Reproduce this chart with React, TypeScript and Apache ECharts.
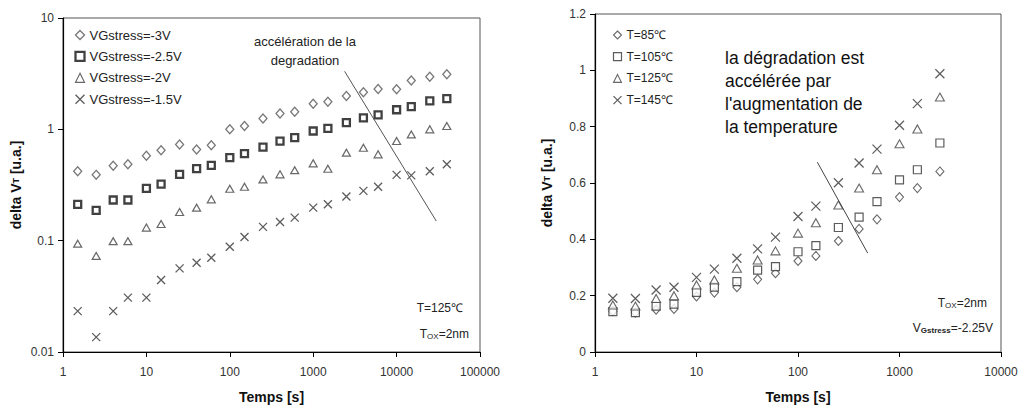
import React, { useEffect, useRef } from "react";
import * as echarts from "echarts";

// ---- Left chart data (T=125°C, Tox=2nm) ----
const timeLeft = [1.5, 2.5, 4, 6, 10, 15, 25, 40, 60, 100, 150, 250, 400, 600, 1000, 1500, 2500, 4000, 6000, 10000, 15000, 25000, 40000];
const vg3 = [0.42, 0.39, 0.47, 0.485, 0.58, 0.65, 0.73, 0.66, 0.72, 1.0, 1.07, 1.25, 1.39, 1.44, 1.7, 1.77, 1.99, 2.15, 2.3, 2.29, 2.75, 2.97, 3.12];
const vg25 = [0.212, 0.187, 0.232, 0.232, 0.295, 0.322, 0.394, 0.443, 0.475, 0.556, 0.604, 0.693, 0.785, 0.842, 0.966, 1.02, 1.15, 1.27, 1.35, 1.5, 1.6, 1.8, 1.89];
const vg2 = [0.094, 0.073, 0.099, 0.099, 0.131, 0.141, 0.181, 0.198, 0.235, 0.293, 0.305, 0.355, 0.394, 0.43, 0.495, 0.443, 0.617, 0.684, 0.596, 0.785, 0.9, 1.0, 1.07];
const vg15 = [0.0233, 0.0136, 0.0233, 0.0308, 0.0308, 0.0443, 0.0564, 0.0634, 0.0703, 0.0883, 0.108, 0.133, 0.147, 0.161, 0.198, 0.212, 0.249, 0.28, 0.305, 0.39, 0.386, 0.42, 0.485];
const leftNames = ["VGstress=-3V", "VGstress=-2.5V", "VGstress=-2V", "VGstress=-1.5V"];

// ---- Right chart data (Tox=2nm, VGstress=-2.25V) ----
const timeRight = [1.5, 2.5, 4, 6, 10, 15, 25, 40, 60, 100, 150, 250, 400, 600, 1000, 1500, 2500];
const t85 = [0.145, 0.14, 0.15, 0.153, 0.197, 0.211, 0.23, 0.258, 0.28, 0.323, 0.341, 0.394, 0.437, 0.471, 0.55, 0.582, 0.641];
const t105 = [0.143, 0.14, 0.163, 0.17, 0.212, 0.23, 0.25, 0.291, 0.303, 0.356, 0.378, 0.442, 0.479, 0.534, 0.611, 0.647, 0.742];
const t125 = [0.167, 0.163, 0.19, 0.2, 0.238, 0.256, 0.297, 0.327, 0.359, 0.422, 0.459, 0.522, 0.582, 0.647, 0.739, 0.792, 0.905];
const t145 = [0.191, 0.19, 0.22, 0.23, 0.265, 0.294, 0.333, 0.366, 0.408, 0.481, 0.518, 0.601, 0.671, 0.72, 0.805, 0.882, 0.988];
const rightNames = ["T=85\u2103", "T=105\u2103", "T=125\u2103", "T=145\u2103"];

// annotation arrows (data coordinates)
const leftArrow = [[2380, 3.32], [29900, 0.15]];
const rightArrow = [[155, 0.674], [486, 0.351]];

const FONT = "'Liberation Sans', Arial, sans-serif";
const CROSS = "path://M0,0L10,10M10,0L0,10";

const pair = (xs: number[], ys: number[]) => xs.map((x, i) => [x, ys[i]]);
const logFmt = (v: number) => String(Number(v.toPrecision(4)));

export default function App() {
  const ref = useRef<HTMLDivElement>(null);
  useEffect(() => {
    const chart = echarts.init(ref.current!, null, { renderer: "svg" });

    const leftStyles = [
      { symbol: "diamond", symbolSize: [8, 9], itemStyle: { color: "#fff", borderColor: "#555", borderWidth: 1.3 } },
      { symbol: "rect", symbolSize: 7, itemStyle: { color: "#fff", borderColor: "#111", borderWidth: 2.3 } },
      { symbol: "triangle", symbolSize: [8, 7], itemStyle: { color: "#fff", borderColor: "#444", borderWidth: 1.2 } },
      { symbol: CROSS, symbolSize: 8, itemStyle: { color: "none", borderColor: "#333", borderWidth: 1.3 } },
    ];
    const rightStyles = [
      { symbol: "diamond", symbolSize: [8, 9], itemStyle: { color: "#fff", borderColor: "#444", borderWidth: 1.1 } },
      { symbol: "rect", symbolSize: 8, itemStyle: { color: "#fff", borderColor: "#333", borderWidth: 1.2 } },
      { symbol: "triangle", symbolSize: [9, 8], itemStyle: { color: "#fff", borderColor: "#444", borderWidth: 1.1 } },
      { symbol: CROSS, symbolSize: 9, itemStyle: { color: "none", borderColor: "#333", borderWidth: 1.2 } },
    ];
    const leftData = [vg3, vg25, vg2, vg15];
    const rightData = [t85, t105, t125, t145];

    const axisCommon = {
      axisLine: { show: true, onZero: false, lineStyle: { color: "#000", width: 1.2 } },
      axisTick: { show: true, inside: false, length: 5, lineStyle: { color: "#000" } },
      splitLine: { show: false },
      nameLocation: "middle" as const,
      nameTextStyle: { fontFamily: FONT, fontWeight: "bold" as const, fontSize: 14, color: "#111" },
    };

    const yName = "delta V{s|T} [u.a.]";
    const yNameRich = { s: { fontSize: 9, fontWeight: "bold", fontFamily: FONT, color: "#111" } };

    const series: any[] = [];
    leftData.forEach((ys, i) => {
      series.push({
        type: "scatter",
        name: leftNames[i],
        xAxisIndex: 0,
        yAxisIndex: 0,
        data: pair(timeLeft, ys),
        ...leftStyles[i],
        ...(i === 0
          ? {
              markLine: {
                silent: true,
                symbol: "none",
                label: { show: false },
                lineStyle: { color: "#555", width: 1, type: "solid" },
                data: [[{ coord: leftArrow[0] }, { coord: leftArrow[1] }]],
              },
            }
          : {}),
      });
    });
    rightData.forEach((ys, i) => {
      series.push({
        type: "scatter",
        name: rightNames[i],
        xAxisIndex: 1,
        yAxisIndex: 1,
        data: pair(timeRight, ys),
        ...rightStyles[i],
        ...(i === 0
          ? {
              markLine: {
                silent: true,
                symbol: "none",
                label: { show: false },
                lineStyle: { color: "#444", width: 1, type: "solid" },
                data: [[{ coord: rightArrow[0] }, { coord: rightArrow[1] }]],
              },
            }
          : {}),
      });
    });

    const option: any = {
      animation: false,
      backgroundColor: "#fff",
      textStyle: { fontFamily: FONT },
      grid: [
        { left: 63, top: 18, width: 417, height: 334, show: true, borderColor: "#555", borderWidth: 1, backgroundColor: "transparent" },
        { left: 595, top: 14, width: 406, height: 338, show: true, borderColor: "#555", borderWidth: 1, backgroundColor: "transparent" },
      ],
      xAxis: [
        {
          ...axisCommon,
          gridIndex: 0,
          type: "log",
          logBase: 10,
          min: 1,
          max: 100000,
          name: "Temps [s]",
          nameGap: 38,
          axisLabel: { formatter: logFmt, margin: 14, fontSize: 12, color: "#333", fontFamily: FONT },
        },
        {
          ...axisCommon,
          gridIndex: 1,
          type: "log",
          logBase: 10,
          min: 1,
          max: 10000,
          name: "Temps [s]",
          nameGap: 38,
          axisLabel: { formatter: logFmt, margin: 14, fontSize: 12, color: "#333", fontFamily: FONT },
        },
      ],
      yAxis: [
        {
          ...axisCommon,
          gridIndex: 0,
          type: "log",
          logBase: 10,
          min: 0.01,
          max: 10,
          name: yName,
          nameGap: 40,
          nameTextStyle: { ...axisCommon.nameTextStyle, rich: yNameRich },
          axisLabel: { formatter: logFmt, margin: 9, fontSize: 12, color: "#333", fontFamily: FONT },
        },
        {
          ...axisCommon,
          gridIndex: 1,
          type: "value",
          min: 0,
          max: 1.2,
          interval: 0.2,
          name: yName,
          nameGap: 41,
          nameTextStyle: { ...axisCommon.nameTextStyle, rich: yNameRich },
          axisLabel: { margin: 9, fontSize: 12, color: "#333", fontFamily: FONT },
        },
      ],
      legend: [
        {
          orient: "vertical",
          left: 68,
          top: 23,
          itemWidth: 9,
          itemHeight: 9,
          itemGap: 7.4,
          selectedMode: false,
          textStyle: { fontSize: 13, lineHeight: 14, color: "#222", fontFamily: FONT },
          data: leftNames.map((n, i) => ({ name: n, icon: leftStyles[i].symbol, itemStyle: leftStyles[i].itemStyle })),
        },
        {
          orient: "vertical",
          left: 606,
          top: 23,
          itemWidth: 8,
          itemHeight: 8,
          itemGap: 7.7,
          selectedMode: false,
          textStyle: { fontSize: 12, lineHeight: 14, color: "#222", fontFamily: FONT },
          data: rightNames.map((n, i) => ({ name: n, icon: rightStyles[i].symbol, itemStyle: rightStyles[i].itemStyle })),
        },
      ],
      graphic: [
        {
          type: "text",
          x: 305,
          y: 51,
          style: {
            text: "accélération de la\ndegradation",
            font: `13px ${FONT}`,
            fill: "#222",
            align: "center",
            verticalAlign: "middle",
            lineHeight: 18.3,
          },
        },
        {
          type: "text",
          x: 463,
          y: 308,
          style: { text: "T=125\u2103", font: `12px ${FONT}`, fill: "#222", align: "right", verticalAlign: "middle" },
        },
        {
          type: "text",
          x: 469,
          y: 334,
          style: {
            text: "T{s|OX}=2nm",
            font: `12px ${FONT}`,
            fill: "#222",
            align: "right",
            verticalAlign: "middle",
            rich: { s: { fontSize: 8, fontFamily: FONT, fill: "#222", padding: [4, 0, 0, 0] } },
          },
        },
        {
          type: "text",
          x: 725,
          y: 92.6,
          style: {
            text: "la dégradation est\naccélérée par\nl'augmentation de\nla temperature",
            font: `17.5px ${FONT}`,
            fill: "#111",
            align: "left",
            verticalAlign: "middle",
            lineHeight: 23.2,
          },
        },
        {
          type: "text",
          x: 987,
          y: 303,
          style: {
            text: "T{s|OX}=2nm",
            font: `12px ${FONT}`,
            fill: "#222",
            align: "right",
            verticalAlign: "middle",
            rich: { s: { fontSize: 8, fontFamily: FONT, fill: "#222", padding: [4, 0, 0, 0] } },
          },
        },
        {
          type: "text",
          x: 993,
          y: 328,
          style: {
            text: "V{s|Gstress}=-2.25V",
            font: `12px ${FONT}`,
            fill: "#222",
            align: "right",
            verticalAlign: "middle",
            rich: { s: { fontSize: 8, fontWeight: "bold", fontFamily: FONT, fill: "#222", padding: [4, 0, 0, 0] } },
          },
        },
      ],
      series,
    };

    chart.setOption(option);
    return () => chart.dispose();
  }, []);

  return (
    <div
      ref={ref}
      style={{ position: "fixed", left: 0, top: 0, width: 1021, height: 409, background: "#fff" }}
    />
  );
}
